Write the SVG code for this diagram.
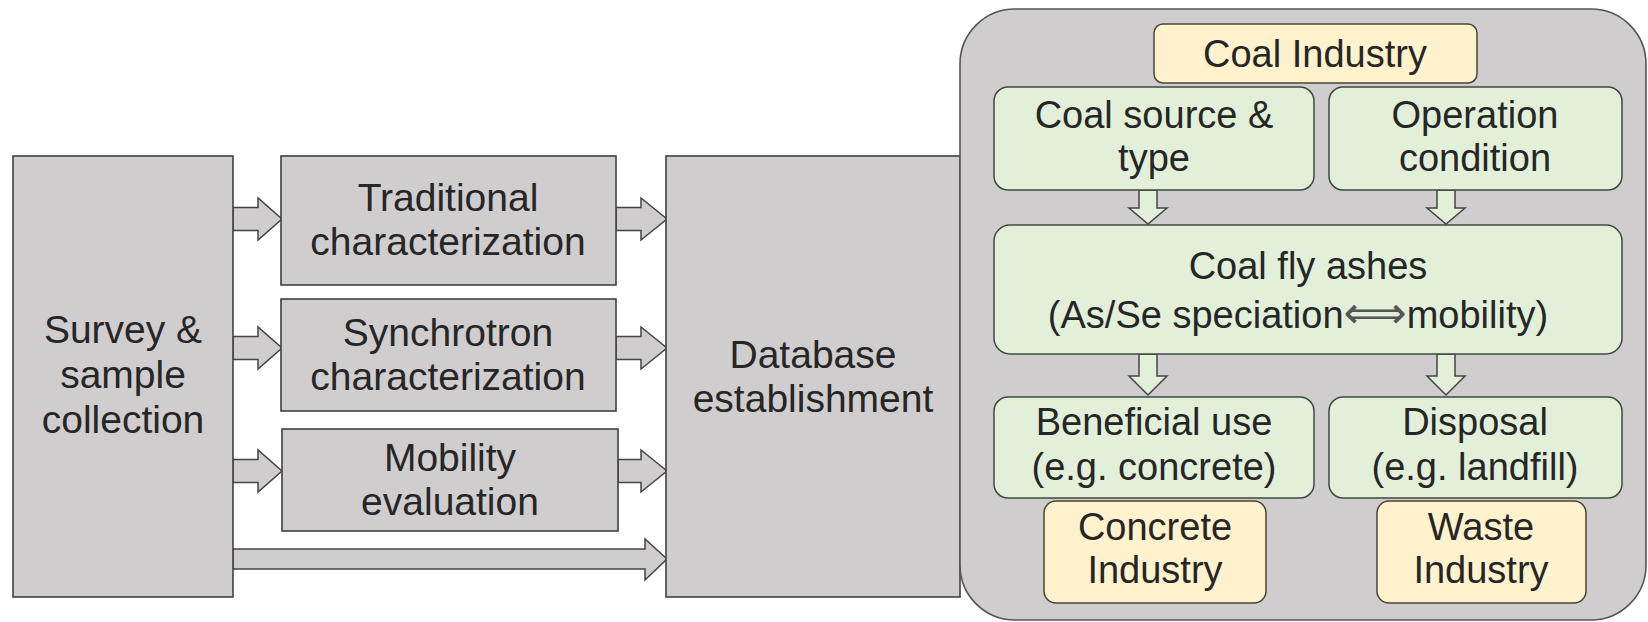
<svg xmlns="http://www.w3.org/2000/svg" width="1648" height="622" viewBox="0 0 1648 622">
<style>
  .gbox { fill: #d0cdce; stroke: #404040; stroke-width: 1.6; }
  .green { fill: #e2efd9; stroke: #3f4a3f; stroke-width: 1.5; }
  .yellow { fill: #fff2cc; stroke: #4a4536; stroke-width: 1.5; }
  .arr { fill: #d0cdce; stroke: #444; stroke-width: 1.5; stroke-linejoin: miter; }
  .garr { fill: #e2efd9; stroke: #444; stroke-width: 1.5; }
  text { font-family: "Liberation Sans", Arial, sans-serif; font-size: 39px; fill: #262626; text-anchor: middle; }
  .r { font-size: 38px; }
</style>
<rect width="1648" height="622" fill="#ffffff"/>

<g id="connectors">
  <polygon class="arr" points="233,207.5 258,207.5 258,198 282,219 258,240 258,230.5 233,230.5"/>
  <polygon class="arr" points="233,336.5 258,336.5 258,327 282,348 258,369 258,359.5 233,359.5"/>
  <polygon class="arr" points="233,459.5 258,459.5 258,450 282,471 258,492 258,482.5 233,482.5"/>
  <polygon class="arr" points="616,207.5 641,207.5 641,198 667,219 641,240 641,230.5 616,230.5"/>
  <polygon class="arr" points="616,336.5 641,336.5 641,327 667,348 641,369 641,359.5 616,359.5"/>
  <polygon class="arr" points="618,459.5 641,459.5 641,450 667,471 641,492 641,482.5 618,482.5"/>
  <polygon class="arr" points="233,549 645,549 645,539 667,559 645,580 645,569 233,569"/>
</g>

<g id="survey">
  <rect class="gbox" x="13" y="156" width="220" height="441"/>
  <text x="123" y="343">Survey &amp;</text>
  <text x="123" y="388">sample</text>
  <text x="123" y="433">collection</text>
</g>
<g id="traditional">
  <rect class="gbox" x="281" y="156" width="335" height="129"/>
  <text x="448" y="211">Traditional</text>
  <text x="448" y="255">characterization</text>
</g>
<g id="synchrotron">
  <rect class="gbox" x="281" y="299" width="335" height="112"/>
  <text x="448" y="346">Synchrotron</text>
  <text x="448" y="390">characterization</text>
</g>
<g id="mobility">
  <rect class="gbox" x="282" y="429" width="336" height="102"/>
  <text x="450" y="471">Mobility</text>
  <text x="450" y="515">evaluation</text>
</g>
<g id="database">
  <rect class="gbox" x="666" y="156" width="294" height="441"/>
  <text x="813" y="368">Database</text>
  <text x="813" y="412">establishment</text>
</g>

<g id="coal-system">
  <rect x="960" y="9" width="686" height="611" rx="55" ry="55" fill="#d0cdce" stroke="#555" stroke-width="1.6"/>
</g>

<g id="inner-connectors">
  <polygon class="garr" points="1139,190 1157,190 1157,208 1167,208 1148,224 1129,208 1139,208"/>
  <polygon class="garr" points="1437,190 1455,190 1455,208 1465,208 1446,224 1427,208 1437,208"/>
  <polygon class="garr" points="1139,354 1157,354 1157,376 1167,376 1148,395 1129,376 1139,376"/>
  <polygon class="garr" points="1437,354 1455,354 1455,376 1465,376 1446,395 1427,376 1437,376"/>
</g>

<g id="coal-industry">
  <rect class="yellow" x="1154" y="24" width="323" height="59" rx="9"/>
  <text class="r" x="1315" y="67">Coal Industry</text>
</g>
<g id="coal-source">
  <rect class="green" x="994" y="87" width="320" height="103" rx="14"/>
  <text class="r" x="1154" y="128">Coal source &amp;</text>
  <text class="r" x="1154" y="171">type</text>
</g>
<g id="operation">
  <rect class="green" x="1329" y="87" width="293" height="103" rx="14"/>
  <text class="r" x="1475" y="128">Operation</text>
  <text class="r" x="1475" y="171">condition</text>
</g>
<g id="fly-ashes">
  <rect class="green" x="994" y="225" width="628" height="129" rx="16"/>
  <text class="r" x="1308" y="279">Coal fly ashes</text>
  <text class="r" x="1298" y="328">(As/Se speciation<tspan font-family="DejaVu Sans, sans-serif" font-size="44" fill="#555">⟺</tspan>mobility)</text>
</g>
<g id="beneficial">
  <rect class="green" x="994" y="397" width="320" height="101" rx="14"/>
  <text class="r" x="1154" y="435">Beneficial use</text>
  <text class="r" x="1154" y="480">(e.g. concrete)</text>
</g>
<g id="disposal">
  <rect class="green" x="1329" y="397" width="293" height="101" rx="14"/>
  <text class="r" x="1475" y="435">Disposal</text>
  <text class="r" x="1475" y="480">(e.g. landfill)</text>
</g>
<g id="concrete-industry">
  <rect class="yellow" x="1044" y="501" width="222" height="102" rx="12"/>
  <text class="r" x="1155" y="540">Concrete</text>
  <text class="r" x="1155" y="583">Industry</text>
</g>
<g id="waste-industry">
  <rect class="yellow" x="1377" y="501" width="209" height="102" rx="12"/>
  <text class="r" x="1481" y="540">Waste</text>
  <text class="r" x="1481" y="583">Industry</text>
</g>
</svg>
